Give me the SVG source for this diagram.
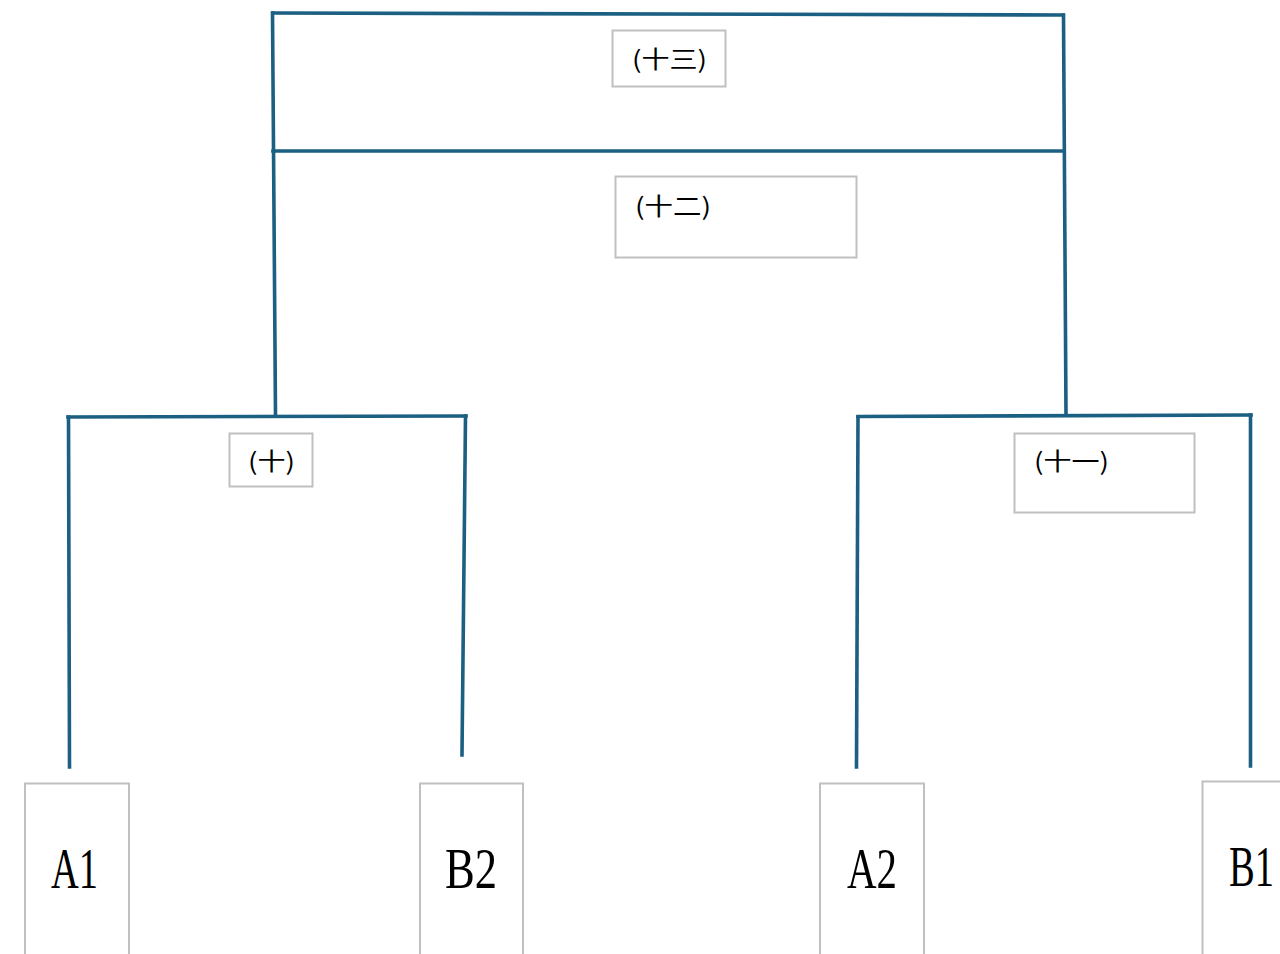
<svg xmlns="http://www.w3.org/2000/svg" width="1280" height="954" viewBox="0 0 1280 954">
<style>
.ln{fill:none;stroke:#1b5f82;stroke-width:3.6;stroke-linecap:square}
.box{fill:#ffffff;stroke:#c0c0c0;stroke-width:2}
.lab{font-family:"Noto Sans CJK SC","Liberation Sans",sans-serif;font-size:24px;fill:#000}
.leaf{font-family:"Liberation Serif","DejaVu Serif",serif;font-size:58px;fill:#000}
</style>
<rect width="1280" height="954" fill="#ffffff"/>
<g id="connectors">
<line class="ln" x1="273" y1="13" x2="1063" y2="15"/>
<line class="ln" x1="273" y1="151" x2="1064" y2="151"/>
<line class="ln" x1="272.5" y1="13" x2="275.5" y2="415"/>
<line class="ln" x1="1063.5" y1="15" x2="1066" y2="415"/>
<line class="ln" x1="68" y1="417" x2="466" y2="416"/>
<line class="ln" x1="68.5" y1="417" x2="69.5" y2="767"/>
<line class="ln" x1="465.5" y1="416" x2="462" y2="755"/>
<line class="ln" x1="858" y1="416.5" x2="1251" y2="415"/>
<line class="ln" x1="858" y1="417" x2="856.5" y2="767"/>
<line class="ln" x1="1250.5" y1="415" x2="1250.5" y2="766"/>
</g>
<g id="n13">
<rect class="box" x="612.5" y="30.5" width="113" height="56"/>
<text class="lab" x="632" y="68" textLength="75" lengthAdjust="spacingAndGlyphs">(十三)</text>
</g>
<g id="n12">
<rect class="box" x="615.5" y="176.5" width="241" height="81"/>
<text class="lab" x="635" y="215" textLength="76" lengthAdjust="spacingAndGlyphs">(十二)</text>
</g>
<g id="n10">
<rect class="box" x="229.5" y="433.5" width="83" height="53"/>
<text class="lab" x="248" y="470" textLength="47" lengthAdjust="spacingAndGlyphs">(十)</text>
</g>
<g id="n11">
<rect class="box" x="1014.5" y="433.5" width="180" height="79"/>
<text class="lab" x="1034" y="470" textLength="75" lengthAdjust="spacingAndGlyphs">(十一)</text>
</g>
<g id="A1">
<rect class="box" x="25" y="783.5" width="104" height="180"/>
<text class="leaf" x="51" y="888" textLength="47" lengthAdjust="spacingAndGlyphs">A1</text>
</g>
<g id="B2">
<rect class="box" x="420" y="783.5" width="103" height="180"/>
<text class="leaf" x="445" y="888" textLength="52" lengthAdjust="spacingAndGlyphs">B2</text>
</g>
<g id="A2">
<rect class="box" x="820" y="783.5" width="104" height="180"/>
<text class="leaf" x="847" y="888" textLength="50" lengthAdjust="spacingAndGlyphs">A2</text>
</g>
<g id="B1">
<rect class="box" x="1202.5" y="781.5" width="100" height="180"/>
<text class="leaf" x="1229" y="886" textLength="45" lengthAdjust="spacingAndGlyphs">B1</text>
</g>
</svg>
